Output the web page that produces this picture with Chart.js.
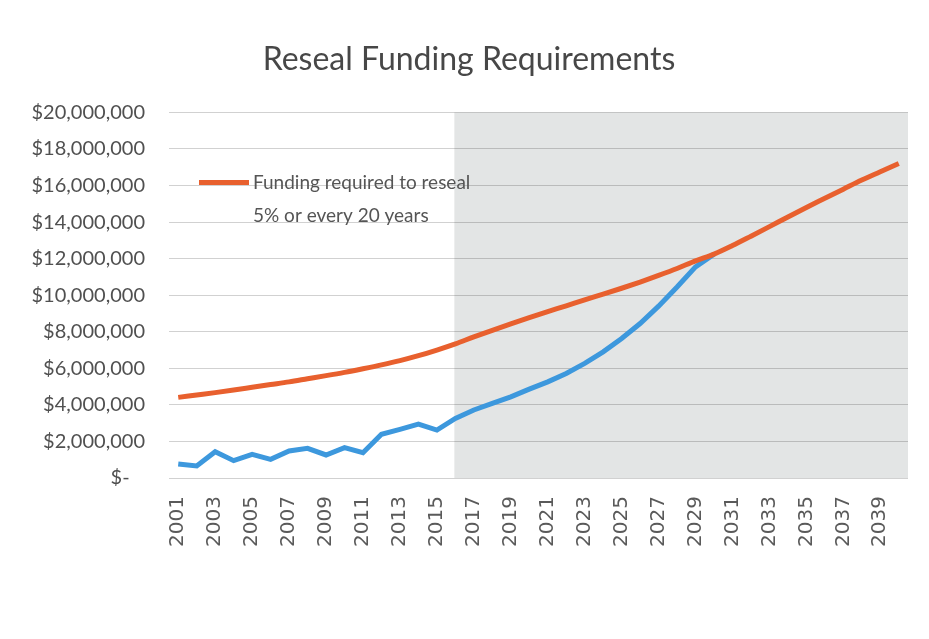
<!DOCTYPE html>
<html>
<head>
<meta charset="utf-8">
<script src="https://cdn.jsdelivr.net/npm/chart.js@4.4.1/dist/chart.umd.min.js"></script>
<style>
  html, body { margin: 0; padding: 0; background: #ffffff; }
  #wrap { width: 929px; height: 639px; }
</style>
</head>
<body>
<div id="wrap"><canvas id="c" width="929" height="639"></canvas></div>
<script>
// ---- data ----
const years = ['2001','2002','2003','2004','2005','2006','2007','2008','2009','2010',
               '2011','2012','2013','2014','2015','2016','2017','2018','2019','2020',
               '2021','2022','2023','2024','2025','2026','2027','2028','2029','2030',
               '2031','2032','2033','2034','2035','2036','2037','2038','2039','2040'];

const requiredFunding = [4410000, 4540000, 4670000, 4810000, 4960000, 5110000, 5260000, 5430000, 5600000, 5780000,
                         5980000, 6190000, 6420000, 6690000, 7000000, 7340000, 7720000, 8080000, 8430000, 8770000,
                         9100000, 9420000, 9750000, 10060000, 10380000, 10720000, 11080000, 11460000, 11880000, 12250000,
                         12720000, 13230000, 13750000, 14280000, 14800000, 15300000, 15800000, 16300000, 16750000, 17200000];

const actualFunding = [770000, 660000, 1440000, 950000, 1290000, 1020000, 1480000, 1620000, 1260000, 1660000,
                       1380000, 2390000, 2660000, 2950000, 2620000, 3260000, 3720000, 4080000, 4440000, 4860000,
                       5260000, 5720000, 6270000, 6900000, 7630000, 8450000, 9400000, 10450000, 11550000, 12250000,
                       null, null, null, null, null, null, null, null, null, null];

const requiredLabel = ['Funding required to reseal', '5% or every 20 years'];
const actualLabel = 'Funding';
const yTickLabels = ['$-   ', '$2,000,000', '$4,000,000', '$6,000,000', '$8,000,000', '$10,000,000',
                     '$12,000,000', '$14,000,000', '$16,000,000', '$18,000,000', '$20,000,000'];
const projectionStart = '2016';
const chartTitle = 'Reseal Funding Requirements';

// ---- plugins ----
const backgroundPlugin = {
  id: 'bgShade',
  beforeDraw(chart) {
    const { ctx, chartArea, scales } = chart;
    ctx.save();
    ctx.fillStyle = '#ffffff';
    ctx.fillRect(0, 0, chart.width, chart.height);
    const x0 = scales.x.getPixelForValue(years.indexOf(projectionStart)) - 1;
    ctx.fillStyle = '#e3e5e5';
    ctx.fillRect(x0, chartArea.top, chartArea.right - x0, chartArea.bottom - chartArea.top);
    ctx.restore();
  }
};

const legendPlugin = {
  id: 'innerLegend',
  afterDatasetsDraw(chart) {
    const { ctx, chartArea } = chart;
    const ds = chart.data.datasets[0];
    const x = chartArea.left + 30;
    const y = chartArea.top + 70;
    ctx.save();
    ctx.strokeStyle = ds.borderColor;
    ctx.lineWidth = 5;
    ctx.beginPath();
    ctx.moveTo(x, y);
    ctx.lineTo(x + 50, y);
    ctx.stroke();
    ctx.fillStyle = '#555555';
    ctx.font = '19px Lato';
    ctx.textBaseline = 'middle';
    ctx.textAlign = 'left';
    ds.label.forEach((line, i) => ctx.fillText(line, x + 54, y + i * 33));
    ctx.restore();
  }
};

new Chart(document.getElementById('c'), {
  type: 'line',
  data: {
    labels: years,
    datasets: [
      {
        label: requiredLabel,
        data: requiredFunding,
        borderColor: '#e8602e',
        backgroundColor: '#e8602e',
        borderWidth: 5,
        pointRadius: 0,
        cubicInterpolationMode: 'monotone',
        order: 0
      },
      {
        label: actualLabel,
        data: actualFunding,
        borderColor: '#3d98dd',
        backgroundColor: '#3d98dd',
        borderWidth: 5,
        pointRadius: 0,
        tension: 0,
        spanGaps: false,
        order: 1
      }
    ]
  },
  options: {
    responsive: false,
    maintainAspectRatio: false,
    devicePixelRatio: 1,
    animation: false,
    layout: { padding: { left: 30, right: 21, top: 0, bottom: 91 } },
    plugins: {
      legend: { display: false },
      tooltip: { enabled: false },
      title: {
        display: true,
        text: chartTitle,
        color: '#474747',
        font: { family: 'Lato', size: 32, weight: 'normal' },
        padding: { top: 40, bottom: 34 }
      }
    },
    scales: {
      x: {
        offset: true,
        grid: { display: false, drawTicks: false },
        border: { display: false },
        ticks: {
          autoSkip: false,
          minRotation: 90,
          maxRotation: 90,
          padding: 18,
          color: '#5a5a5a',
          font: { family: 'DejaVu Sans', size: 20 },
          callback: (v, i) => (i % 2 === 0 ? years[i] : null)
        },
        afterFit(scale) { scale.height = 70; }
      },
      y: {
        min: 0,
        max: 20000000,
        grid: { color: 'rgba(0,0,0,0.18)', lineWidth: 1, drawTicks: false },
        border: { display: false },
        ticks: {
          stepSize: 2000000,
          padding: 24,
          color: '#505050',
          font: { family: 'Lato', size: 20 },
          callback: (v) => yTickLabels[Math.round(v / 2000000)]
        },
        afterFit(scale) { scale.width = 139; }
      }
    }
  },
  plugins: [backgroundPlugin, legendPlugin]
});
</script>
</body>
</html>
